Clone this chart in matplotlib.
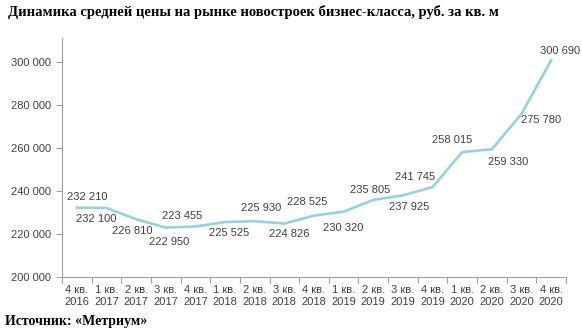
import matplotlib
matplotlib.use("Agg")
import matplotlib.pyplot as plt

categories = ["4 кв.\n2016", "1 кв.\n2017", "2 кв.\n2017", "3 кв.\n2017", "4 кв.\n2017",
              "1 кв.\n2018", "2 кв.\n2018", "3 кв.\n2018", "4 кв.\n2018",
              "1 кв.\n2019", "2 кв.\n2019", "3 кв.\n2019", "4 кв.\n2019",
              "1 кв.\n2020", "2 кв.\n2020", "3 кв.\n2020", "4 кв.\n2020"]
prices = [232210, 232100, 226810, 222950, 223455, 225525, 225930, 224826, 228525,
          230320, 235805, 237925, 241745, 258015, 259330, 275780, 300690]
yticks = [200000, 220000, 240000, 260000, 280000, 300000]
title = "Динамика средней цены на рынке новостроек бизнес-класса, руб. за кв. м"
source = "Источник: «Метриум»"

# label offsets in pixels (dx, dy up)
label_offsets = [(10, 11), (-10, -11), (-4, -12), (3, -14), (-13, 10), (4, -11), (6, 13),
                 (5, -10), (-7, 14), (0, -16), (-3, 10), (6, -12), (-18, 10), (-10, 12),
                 (16, -13), (20, -6), (9, 9)]

def fmt(v):
    return f"{v:,}".replace(",", " ")

fig = plt.figure(figsize=(5.82, 3.35), dpi=100)
ax = fig.add_axes([62/582, 58/335, 504/582, 239/335])

x = list(range(len(prices)))
ax.plot(x, prices, color="#94d2de", lw=1.9, solid_joinstyle="miter")

ax.set_xlim(-0.5, len(prices) - 0.5)
ax.set_ylim(200000, 311000)
ax.set_yticks(yticks)
ax.set_yticklabels([fmt(v) for v in yticks], fontsize=8, color="#404040", family="Liberation Sans")
ax.set_xticks(x)
ax.set_xticklabels(categories, fontsize=8, color="#404040", family="Liberation Sans", linespacing=1.25)
ax.set_xticks([i - 0.5 for i in range(len(prices) + 1)], minor=True)
ax.tick_params(axis="x", which="major", length=0, pad=6)
ax.tick_params(axis="x", which="minor", length=4, color="#a0a0a0", width=0.8)
ax.tick_params(axis="y", length=4, color="#a0a0a0", width=0.8, pad=4)

for s in ["top", "right"]:
    ax.spines[s].set_visible(False)
for s in ["left", "bottom"]:
    ax.spines[s].set_color("#a0a0a0")
    ax.spines[s].set_linewidth(0.8)

for i, v in enumerate(prices):
    dx, dy = label_offsets[i]
    ax.annotate(fmt(v), (i, v), xytext=(dx, dy), textcoords="offset pixels",
                ha="center", va="center", fontsize=8, color="#404040", family="Liberation Sans")

fig.text(8/582, 1 - 12/335, title, ha="left", va="center", fontsize=10.5, fontweight="bold",
         family="Liberation Serif", color="#000000")
fig.text(5/582, 1 - 322/335, source, ha="left", va="center", fontsize=10, fontweight="bold",
         family="Liberation Serif", color="#000000")

fig.savefig("out.png", dpi=100)
